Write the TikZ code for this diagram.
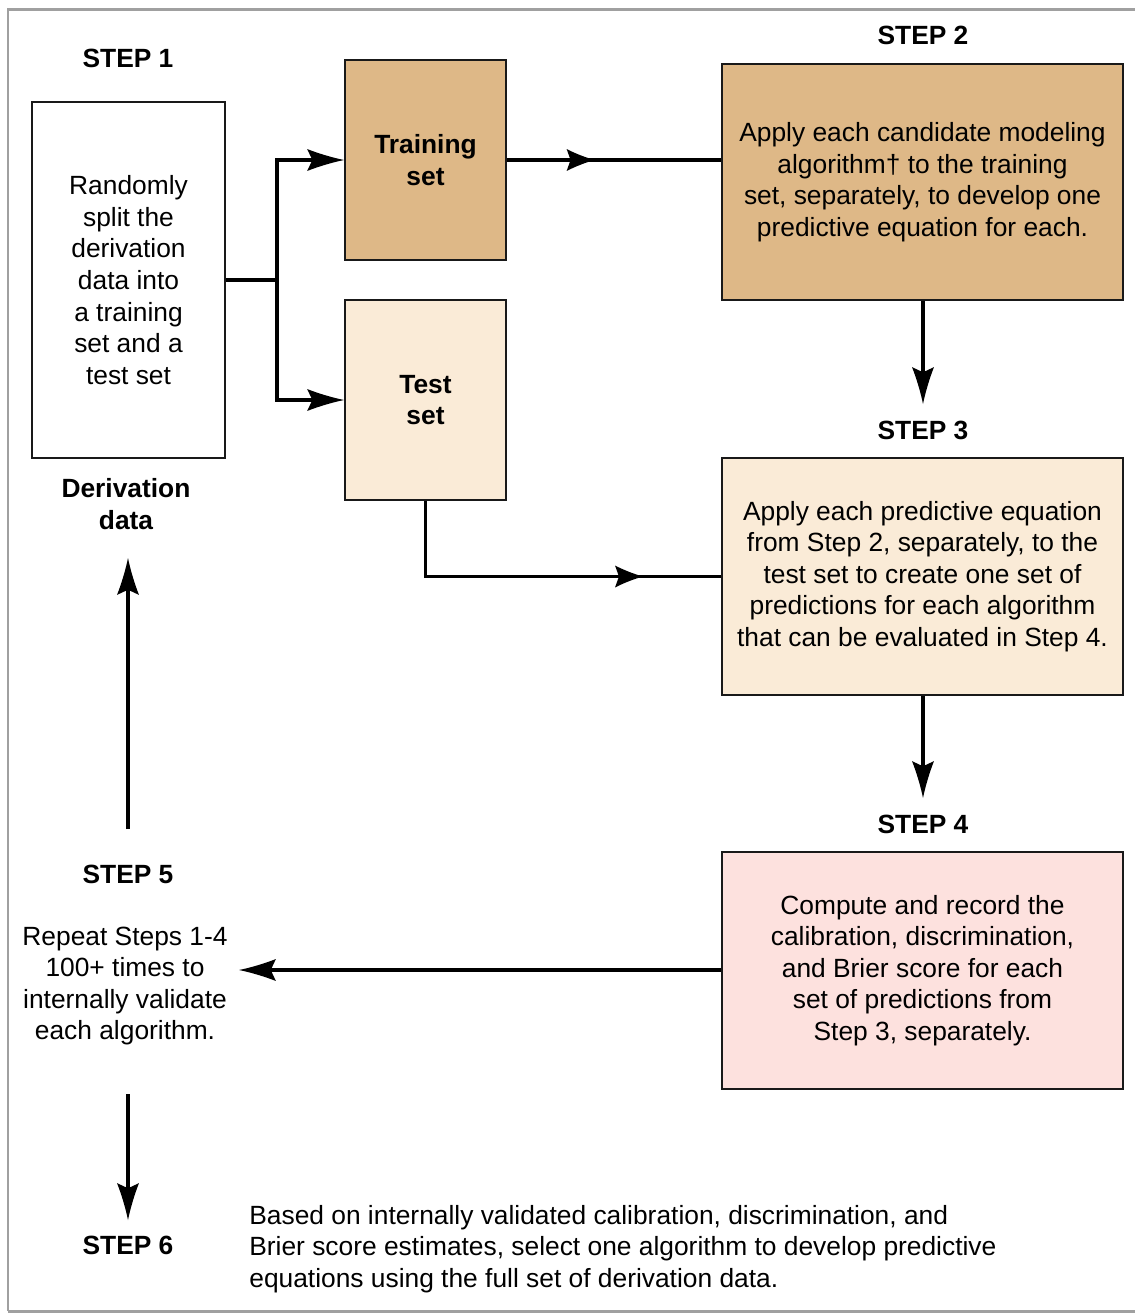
\documentclass[tikz,border=0pt]{standalone}
\usepackage{fontspec}
\setmainfont{Liberation Sans}
\usetikzlibrary{arrows.meta,decorations.markings}
\definecolor{trainfill}{HTML}{DEB887}
\definecolor{testfill}{HTML}{FAEBD7}
\definecolor{pinkfill}{HTML}{FDE1DE}
\definecolor{framegray}{HTML}{A0A0A0}
\pgfdeclarearrow{
  name = Swoop,
  defaults = { length = 20pt, width = 12pt },
  parameters = { \the\pgfarrowlength,\the\pgfarrowwidth },
  setup code = {
    \pgfarrowssettipend{0pt}
    \pgfarrowssetlineend{-0.8\pgfarrowlength}
    \pgfarrowssetvisualbackend{-\pgfarrowlength}
    \pgfarrowssetbackend{-\pgfarrowlength}
    \pgfarrowshullpoint{0pt}{0pt}
    \pgfarrowshullpoint{-\pgfarrowlength}{.5\pgfarrowwidth}
    \pgfarrowshullpoint{-\pgfarrowlength}{-.5\pgfarrowwidth}
    \pgfarrowssavethe\pgfarrowlength
    \pgfarrowssavethe\pgfarrowwidth
  },
  drawing code = {
    \pgfpathmoveto{\pgfqpoint{0pt}{0pt}}
    \pgfpathcurveto{\pgfqpoint{-.3\pgfarrowlength}{.1\pgfarrowwidth}}{\pgfqpoint{-.7\pgfarrowlength}{.3\pgfarrowwidth}}{\pgfqpoint{-\pgfarrowlength}{.5\pgfarrowwidth}}
    \pgfpathlineto{\pgfqpoint{-.86\pgfarrowlength}{0pt}}
    \pgfpathlineto{\pgfqpoint{-\pgfarrowlength}{-.5\pgfarrowwidth}}
    \pgfpathcurveto{\pgfqpoint{-.7\pgfarrowlength}{-.3\pgfarrowwidth}}{\pgfqpoint{-.3\pgfarrowlength}{-.1\pgfarrowwidth}}{\pgfqpoint{0pt}{0pt}}
    \pgfpathclose
    \pgfusepathqfill
  }
}
\tikzset{
  txt/.style={font=\fontsize{15}{18}\selectfont, align=center, inner sep=0pt},
  steplabel/.style={font=\fontsize{15}{18}\selectfont\bfseries, align=center, inner sep=0pt},
  box/.style={draw=black!90, line width=1.1pt, font=\fontsize{15}{18}\selectfont, align=center, inner sep=0pt},
  conn/.style={line width=2.1pt},
  endtip/.style={-{Swoop[length=21pt,width=12.5pt]}},
  midtip/.style={postaction={decorate}, decoration={markings, mark=at position #1 with {\arrow{Swoop[length=16pt,width=12.5pt]}}}}
}
\begin{document}
\begin{tikzpicture}[x=0.02cm,y=-0.02cm]
\useasboundingbox (0,0) rectangle (1135,1313);
\draw[framegray, line width=1.7pt] (8,1311) -- (8,9) -- (1145,9);
\draw[framegray, line width=1.7pt] (8,1311) -- (1145,1311);

% Step 1
\node[steplabel] (s1) at (128,58) {STEP 1};
\node[box, fill=white, minimum width=3.86cm, minimum height=7.12cm] (deriv) at (128.5,280)
  {Randomly\\split the\\derivation\\data into\\a training\\set and a\\test set};
\node[steplabel] (derivlbl) at (126,504) {Derivation\\data};

\node[box, fill=trainfill, minimum width=3.22cm, minimum height=4.0cm, font=\fontsize{15}{18}\selectfont\bfseries] (train) at (425.5,160) {Training\\set};
\node[box, fill=testfill, minimum width=3.22cm, minimum height=4.0cm, font=\fontsize{15}{18}\selectfont\bfseries] (test) at (425.5,400) {Test\\set};

\coordinate (split) at (277,280);
\draw[conn] (deriv.east |- split) -- (split);
\draw[conn, endtip] (split) |- (train.west);
\draw[conn, endtip] (split) |- (test.west);

% Step 2
\node[steplabel] (s2) at (923,35) {STEP 2};
\node[box, fill=trainfill, minimum width=8.02cm, minimum height=4.72cm] (b2) at (922.5,182)
  {Apply each candidate modeling\\algorithm\textdagger\ to the training\\set, separately, to develop one\\predictive equation for each.};
\draw[conn, midtip=0.41] (train.east) -- (train.east -| b2.west);

% Step 3
\node[steplabel] (s3) at (923,430) {STEP 3};
\coordinate (s3top) at (923,404);
\draw[conn, endtip] (b2.south -| s3top) -- (s3top);
\node[box, fill=testfill, minimum width=8.02cm, minimum height=4.74cm] (b3) at (922.5,576.5)
  {Apply each predictive equation\\from Step 2, separately, to the\\test set to create one set of\\predictions for each algorithm\\that can be evaluated in Step 4.};
\draw[conn, midtip=0.79] (test.south) |- (b3.west);

% Step 4
\node[steplabel] (s4) at (923,824) {STEP 4};
\coordinate (s4top) at (923,798);
\draw[conn, endtip] (b3.south -| s4top) -- (s4top);
\node[box, fill=pinkfill, minimum width=8.02cm, minimum height=4.74cm] (b4) at (922.5,970.5)
  {Compute and record the\\calibration, discrimination,\\and Brier score for each\\set of predictions from\\Step 3, separately.};

% Step 5
\node[steplabel] (s5) at (128,874) {STEP 5};
\node[txt] (s5txt) at (125,986) {Repeat Steps 1-4\\100+ times to\\internally validate\\each algorithm.};
\coordinate (s5in) at (239,970);
\draw[conn, endtip] (b4.west |- s5in) -- (s5in);
\coordinate (upstart) at (128,829);
\coordinate (upend) at (128,558);
\draw[conn, endtip] (upstart) -- (upend);

% Step 6
\coordinate (downstart) at (128,1094);
\coordinate (downend) at (128,1220);
\draw[conn, endtip] (downstart) -- (downend);
\node[steplabel] (s6) at (128,1245) {STEP 6};
\node[txt, align=left, anchor=west] (s6txt) at (249,1249) {Based on internally validated calibration, discrimination, and\\Brier score estimates, select one algorithm to develop predictive\\equations using the full set of derivation data.};
\end{tikzpicture}
\end{document}
